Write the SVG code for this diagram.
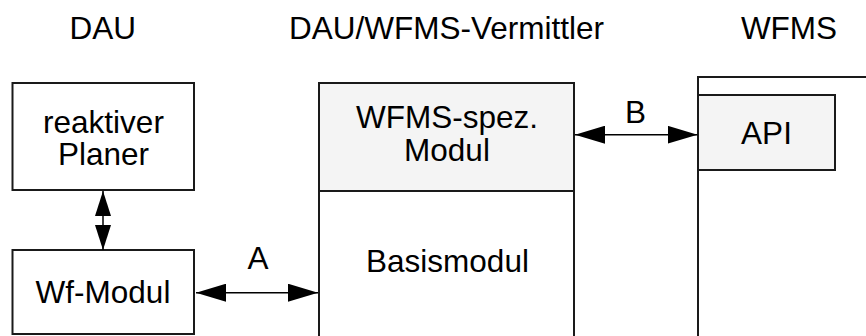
<svg xmlns="http://www.w3.org/2000/svg" width="866" height="336" viewBox="0 0 866 336">
<defs>
<style>
.box{fill:#fff;stroke:#1a1a1a;stroke-width:2}
.grey{fill:#f4f4f4;stroke:#1a1a1a;stroke-width:2}
.t{font-family:"Liberation Sans",Arial,Helvetica,sans-serif;font-size:31.5px;fill:#000;text-anchor:middle}
.c{stroke:#000;stroke-width:1.5;fill:none}
</style>
<marker id="ah" markerUnits="userSpaceOnUse" markerWidth="30" markerHeight="18" refX="30" refY="9" orient="auto-start-reverse" viewBox="0 0 30 18">
<path d="M0,0 L30,9 L0,18 Z" fill="#000"/>
</marker>
<marker id="ahs" markerUnits="userSpaceOnUse" markerWidth="25" markerHeight="16" refX="25" refY="8" orient="auto-start-reverse" viewBox="0 0 25 16">
<path d="M0,0 L25,8 L0,16 Z" fill="#000"/>
</marker>
</defs>
<rect width="866" height="336" fill="#fff"/>
<g id="headers">
<text class="t" x="102.7" y="39.3">DAU</text>
<text class="t" x="446.5" y="39.3">DAU/WFMS-Vermittler</text>
<text class="t" x="789" y="39.3">WFMS</text>
</g>
<g id="planer">
<rect class="box" x="12.5" y="83" width="181.5" height="107"/>
<text class="t" x="103.5" y="132.5">reaktiver</text>
<text class="t" x="103.5" y="165">Planer</text>
</g>
<g id="wfmodul">
<rect class="box" x="12.5" y="250" width="181.5" height="84"/>
<text class="t" x="103" y="303">Wf-Modul</text>
</g>
<g id="vermittler">
<rect class="box" x="319" y="191" width="255" height="160"/>
<rect class="grey" x="319" y="83" width="255" height="108"/>
<text class="t" x="447" y="128">WFMS-spez.</text>
<text class="t" x="447" y="161">Modul</text>
<text class="t" x="447.5" y="272">Basismodul</text>
</g>
<g id="wfms">
<rect class="box" x="698" y="77" width="190" height="280"/>
<rect class="grey" x="698" y="95" width="137" height="75"/>
<text class="t" x="766.5" y="144">API</text>
</g>
<g id="connectors">
<line class="c" x1="103" y1="191" x2="103" y2="250" marker-start="url(#ahs)" marker-end="url(#ahs)"/>
<line class="c" x1="196" y1="292.7" x2="318" y2="292.7" marker-start="url(#ah)" marker-end="url(#ah)"/>
<line class="c" x1="575" y1="134.7" x2="697.5" y2="134.7" marker-start="url(#ah)" marker-end="url(#ah)"/>
<text class="t" x="258" y="269">A</text>
<text class="t" x="635.5" y="123">B</text>
</g>
</svg>
